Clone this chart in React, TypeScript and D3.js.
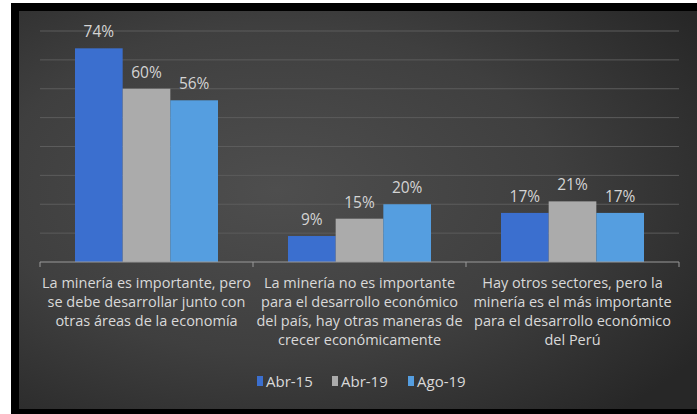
import React from "react";
import * as d3 from "d3";

const categories = [
  ["La minería es importante, pero", "se debe desarrollar junto con", "otras áreas de la economía"],
  ["La minería no es importante", "para el desarrollo económico", "del país, hay otras maneras de", "crecer económicamente"],
  ["Hay otros sectores, pero la", "minería es el más importante", "para el desarrollo económico", "del Perú"],
];
const seriesNames = ["Abr-15", "Abr-19", "Ago-19"];
const abr15 = [74, 9, 17];
const abr19 = [60, 15, 21];
const ago19 = [56, 20, 17];
const seriesValues = [abr15, abr19, ago19];
const colors = ["#3b6fcf", "#ababab", "#559ee0"];

const W = 697, H = 414;
const FONT = "'Open Sans', sans-serif";

export default function App() {
  const x0 = d3.scaleBand<number>().domain([0, 1, 2]).range([40, 679]).paddingInner(0).paddingOuter(0);
  const groupPad = 35;
  const x1 = d3.scaleBand<number>().domain([0, 1, 2]).range([0, x0.bandwidth() - 2 * groupPad]).padding(0);
  const y = d3.scaleLinear().domain([0, 80]).range([262, 31]);
  const ticks = d3.range(10, 81, 10);

  return (
    <svg width={W} height={H} style={{ position: "absolute", left: 0, top: 0 }}>
      <defs>
        <radialGradient id="bg" cx="0.38" cy="0.45" r="0.75">
          <stop offset="0" stopColor="#4e4e4e" />
          <stop offset="0.55" stopColor="#3f3f3f" />
          <stop offset="1" stopColor="#272727" />
        </radialGradient>
      </defs>
      <rect x={0} y={0} width={W} height={H} fill="#ffffff" />
      <rect x={11} y={3} width={W - 11} height={H - 3} fill="#000000" />
      <rect x={19} y={11} width={W - 19} height={409 - 11} fill="url(#bg)" />
      {ticks.map((t) => (
        <line key={t} x1={40} x2={679} y1={y(t)} y2={y(t)} stroke="#5c5c5c" strokeWidth={1} />
      ))}
      {seriesValues.map((vals, si) =>
        vals.map((v, ci) => {
          const bx = x0(ci)! + groupPad + x1(si)!;
          return (
            <g key={`${si}-${ci}`}>
              <rect x={bx} y={y(v)} width={x1.bandwidth()} height={y(0) - y(v)} fill={colors[si]} />
              <text
                x={bx + x1.bandwidth() / 2}
                y={y(v) - 11}
                textAnchor="middle"
                fontFamily={FONT}
                fontSize={15.5}
                fill="#d4d4d4"
              >
                {v}%
              </text>
            </g>
          );
        })
      )}
      <line x1={40} x2={679} y1={y(0)} y2={y(0)} stroke="#9a9a9a" strokeWidth={1} />
      {[0, 1, 2, 3].map((i) => {
        const xx = i < 3 ? x0(i)! : x0(2)! + x0.bandwidth();
        return <line key={i} x1={xx} x2={xx} y1={y(0)} y2={y(0) + 5} stroke="#9a9a9a" />;
      })}
      {categories.map((lines, ci) => (
        <text
          key={ci}
          x={x0(ci)! + x0.bandwidth() / 2}
          textAnchor="middle"
          fontFamily={FONT}
          fontSize={14.5}
          fill="#d9d9d9"
        >
          {lines.map((l, li) => (
            <tspan key={li} x={x0(ci)! + x0.bandwidth() / 2} y={288 + li * 19}>
              {l}
            </tspan>
          ))}
        </text>
      ))}
      {seriesNames.map((n, i) => {
        const lx = [257, 332, 408][i];
        return (
          <g key={n}>
            <rect x={lx} y={376} width={6} height={10} fill={colors[i]} />
            <text x={lx + 9} y={387} fontFamily={FONT} fontSize={15} fill="#d9d9d9">
              {n}
            </text>
          </g>
        );
      })}
    </svg>
  );
}
